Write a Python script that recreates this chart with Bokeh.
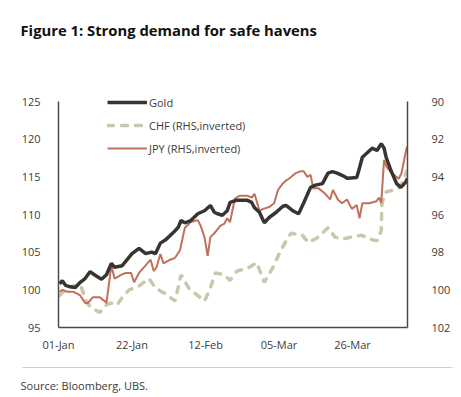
from bokeh.plotting import figure
from bokeh.layouts import column
from bokeh.models import (Range1d, LinearAxis, FixedTicker, Legend, LegendItem, Label)
from bokeh.embed import file_html
from bokeh.resources import INLINE

# ---- data (day offset from 01-Jan) ----
gold_day = [0.3, 1.1, 2.0, 3.4, 4.8, 6.2, 7.6, 9.0, 10.9, 12.3, 13.7, 15.1, 16.0, 18.2,
            19.6, 21.0, 23.0, 24.9, 26.6, 27.7, 29.1, 30.5, 32.8, 34.2, 35.0, 36.1,
            37.8, 39.8, 41.7, 43.4, 44.5, 45.4, 46.8, 48.2, 49.0, 51.0, 53.8, 55.2,
            56.0, 57.4, 58.8, 60.2, 62.2, 64.1, 65.0, 66.9, 68.6, 70.0, 72.0, 73.4,
            75.4, 77.0, 78.2, 79.6, 81.0, 82.6, 85.2, 86.0, 86.8, 88.2, 89.6, 91.0,
            92.2, 93.0, 93.6, 95.0, 96.6, 97.8, 99.2, 99.7]
gold_val = [100.8, 101.2, 100.6, 100.4, 100.3, 101.0, 101.5, 102.4, 101.8, 101.4, 102.0,
            103.5, 103.0, 103.2, 104.0, 104.8, 105.5, 104.8, 105.0, 104.8, 106.2, 106.6,
            107.6, 108.3, 109.2, 108.9, 109.2, 110.1, 110.5, 111.2, 110.3, 110.1, 109.9,
            110.5, 111.6, 111.9, 111.9, 111.6, 110.9, 110.3, 108.9, 109.6, 110.3, 111.1,
            111.2, 110.5, 110.1, 111.5, 113.6, 113.9, 114.1, 115.5, 115.7, 115.5, 115.2,
            114.8, 114.9, 116.2, 117.6, 118.2, 118.8, 118.5, 119.4, 118.8, 117.6, 115.8,
            114.1, 113.6, 114.3, 114.8]

chf_day = [0.3, 2.5, 4.2, 6.2, 8.1, 9.8, 11.8, 13.7, 15.1, 16.8, 18.2, 20.2, 23.0, 25.8,
           27.7, 30.5, 33.3, 35.0, 37.5, 39.8, 41.7, 43.4, 44.8, 47.3, 49.0, 51.0, 54.6,
           56.6, 58.8, 61.3, 63.0, 65.0, 66.4, 69.7, 71.4, 74.2, 77.0, 79.0, 81.0, 83.8,
           86.6, 88.8, 91.0, 92.2, 92.4, 93.6, 95.8, 97.2, 98.6, 99.4]
chf_val = [100.3, 99.9, 99.8, 99.7, 100.7, 101.0, 101.2, 100.8, 100.7, 100.8, 100.4,
           100.0, 99.8, 99.4, 99.9, 100.2, 100.6, 99.2, 100.0, 100.3, 100.6, 99.9, 99.1,
           99.2, 99.5, 99.0, 98.8, 98.55, 99.6, 98.8, 98.1, 97.4, 97.0, 97.1, 97.5, 97.2,
           96.7, 97.2, 97.3, 97.2, 97.1, 97.3, 97.4, 96.85, 95.4, 94.8, 94.7, 94.6, 94.2,
           93.7]

jpy_day = [0.3, 1.1, 2.5, 4.2, 6.2, 7.6, 8.4, 9.8, 11.8, 13.2, 13.7, 15.1, 16.0, 17.9,
           19.3, 20.7, 21.6, 23.0, 24.9, 26.3, 27.2, 28.0, 29.1, 30.0, 31.9, 33.3, 34.7,
           36.1, 37.8, 39.8, 40.6, 41.7, 42.6, 43.4, 44.5, 46.2, 47.3, 48.2, 49.0, 50.4,
           51.8, 53.8, 55.2, 56.0, 57.4, 58.5, 60.2, 61.6, 62.7, 64.1, 65.0, 65.8, 67.8,
           69.2, 70.0, 71.1, 72.0, 72.8, 74.2, 76.2, 77.6, 78.4, 79.8, 81.0, 82.4, 83.8,
           85.2, 86.0, 86.8, 88.8, 90.8, 91.6, 92.2, 93.0, 93.8, 95.2, 97.2, 98.0, 99.4,
           99.7]
jpy_val = [100.1, 100.0, 100.1, 100.1, 100.3, 100.7, 100.7, 100.4, 100.4, 100.6, 100.7,
           98.7, 99.4, 99.2, 99.1, 99.1, 99.6, 99.1, 98.7, 98.4, 99.0, 98.8, 98.1, 98.6,
           98.4, 98.3, 97.9, 96.7, 96.4, 96.3, 96.6, 97.2, 98.2, 97.2, 97.0, 96.6, 96.5,
           96.2, 96.4, 95.15, 95.0, 95.0, 95.1, 94.9, 95.8, 95.7, 95.6, 95.4, 94.7, 94.35,
           94.2, 94.1, 93.8, 93.7, 93.7, 94.0, 93.9, 94.6, 94.6, 94.9, 95.2, 94.7, 95.2,
           95.4, 95.2, 95.7, 95.5, 96.2, 95.4, 95.4, 95.3, 95.1, 95.4, 93.1, 93.5, 93.8,
           94.1, 93.8, 92.5, 92.4]

x_ticks = [0, 21, 42, 63, 84]
x_labels = ["01-Jan", "22-Jan", "12-Feb", "05-Mar", "26-Mar"]
left_ticks = [95, 100, 105, 110, 115, 120, 125]
right_ticks = [90, 92, 94, 96, 98, 100, 102]

title_text = "Figure 1: Strong demand for safe havens"
source_text = "Source: Bloomberg, UBS."

FONT = "Open Sans"
TXT = "#3c3c3c"
AX = "#4a4a4a"
W = 453

def no_align(fig):
    try:
        fig.frame_align = False
    except Exception:
        pass

# ---------- header (title) ----------
head = figure(width=W, height=60, output_backend="svg", toolbar_location=None,
              x_range=Range1d(0, W), y_range=Range1d(0, 60),
              x_axis_location=None, y_axis_location=None, min_border=0,
              min_border_left=0, min_border_right=0, min_border_top=0,
              min_border_bottom=0)
head.outline_line_color = None
head.xgrid.visible = False
head.ygrid.visible = False
no_align(head)
head.add_layout(Label(x=20, y=31, x_units="screen", y_units="screen", text=title_text,
                      text_font=FONT, text_font_size="14.8px", text_font_style="bold",
                      text_color="#111111", text_baseline="alphabetic"))

# ---------- main chart ----------
# frame spans 242 px; the axes lines are bounded to the labelled span
p = figure(width=W, height=302, output_backend="svg", toolbar_location=None,
           x_range=Range1d(0, 99.7), y_range=Range1d(95, 95 + 242 / (226 / 30)),
           min_border_left=58, min_border_right=39, min_border_top=25,
           min_border_bottom=35)
p.extra_y_ranges = {"rhs": Range1d(102, 102 - 242 / (226 / 12))}
p.outline_line_color = None
p.xgrid.visible = False
p.ygrid.visible = False
no_align(p)

def style_axis(ax):
    ax.axis_line_color = AX
    ax.axis_line_width = 1.5
    ax.major_tick_line_color = None
    ax.minor_tick_line_color = None
    ax.major_label_text_font = FONT
    ax.major_label_text_font_size = "11px"
    ax.major_label_text_color = TXT

p.xaxis.ticker = FixedTicker(ticks=x_ticks)
p.xaxis.major_label_overrides = {t: l for t, l in zip(x_ticks, x_labels)}
p.yaxis.ticker = FixedTicker(ticks=left_ticks)
p.yaxis.bounds = (left_ticks[0], left_ticks[-1])
style_axis(p.xaxis[0])
style_axis(p.yaxis[0])
p.xaxis.major_label_standoff = 3
p.yaxis.major_label_standoff = 12

rax = LinearAxis(y_range_name="rhs", ticker=FixedTicker(ticks=right_ticks),
                 bounds=(right_ticks[0], right_ticks[-1]))
style_axis(rax)
rax.major_label_standoff = 18
p.add_layout(rax, "right")

r_chf = p.line(chf_day, chf_val, y_range_name="rhs", line_color="#cbc7ad",
               line_width=3.5, line_dash="6 8", line_cap="round")
r_jpy = p.line(jpy_day, jpy_val, y_range_name="rhs", line_color="#c1705a",
               line_width=2)
r_gold = p.line(gold_day, gold_val, line_color="#3a3431", line_width=3.5)

legend = Legend(items=[LegendItem(label="Gold", renderers=[r_gold]),
                       LegendItem(label="CHF (RHS,inverted)", renderers=[r_chf]),
                       LegendItem(label="JPY (RHS,inverted)", renderers=[r_jpy])],
                location=(49, 169), border_line_color=None,
                background_fill_alpha=0, padding=0, margin=0, spacing=3,
                glyph_width=40, glyph_height=20, label_standoff=2,
                label_text_font=FONT, label_text_font_size="11px",
                label_text_color=TXT)
p.add_layout(legend)

# ---------- footer (rule + source) ----------
foot = figure(width=W, height=35, output_backend="svg", toolbar_location=None,
              x_range=Range1d(0, W), y_range=Range1d(0, 35),
              x_axis_location=None, y_axis_location=None, min_border=0,
              min_border_left=0, min_border_right=0, min_border_top=0,
              min_border_bottom=0)
foot.outline_line_color = None
foot.xgrid.visible = False
foot.ygrid.visible = False
no_align(foot)
foot.segment(x0=[22], y0=[30], x1=[452], y1=[30], line_color="#cfcfcf", line_width=1)
foot.add_layout(Label(x=20, y=12, x_units="screen", y_units="screen", text=source_text,
                      text_font=FONT, text_font_size="11px", text_color=TXT,
                      text_baseline="alphabetic"))

layout = column(head, p, foot, spacing=0)
out = file_html(layout, INLINE)
open("out.html", "w").write(out)
